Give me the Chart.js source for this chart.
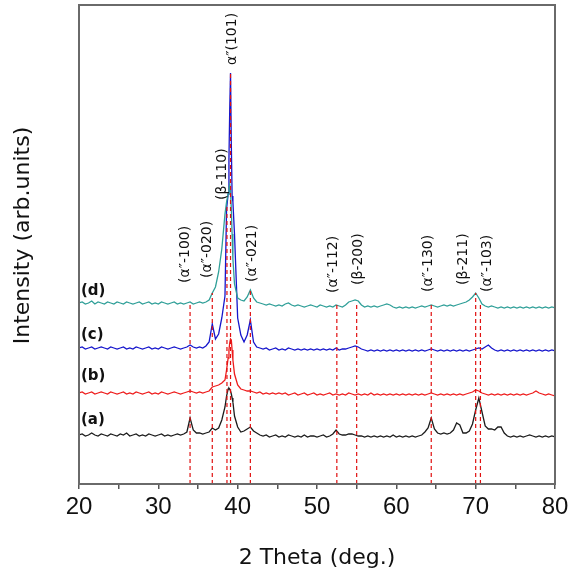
<!DOCTYPE html>
<html>
<head>
<meta charset="utf-8">
<script src="https://cdn.jsdelivr.net/npm/chart.js@4.4.1/dist/chart.umd.min.js"></script>
<style>
html,body{margin:0;padding:0;background:#fff;}
#wrap{width:575px;height:575px;}
</style>
</head>
<body>
<div id="wrap"><canvas id="c" width="575" height="575"></canvas></div>
<script>
// 2θ grid (degrees)
const theta = [
20.0,20.4,20.8,21.2,21.6,22.0,22.4,22.8,23.2,23.6,
24.0,24.4,24.8,25.2,25.6,26.0,26.4,26.8,27.2,27.6,
28.0,28.4,28.8,29.2,29.6,30.0,30.4,30.8,31.2,31.6,
32.0,32.4,32.8,33.2,33.6,34.0,34.4,34.8,35.2,35.6,
36.0,36.4,36.8,37.2,37.6,38.0,38.4,38.6,38.8,38.9,
39.0,39.1,39.2,39.3,39.4,39.6,40.0,40.4,40.8,41.2,
41.6,42.0,42.4,42.8,43.2,43.6,44.0,44.4,44.8,45.2,
45.6,46.0,46.4,46.8,47.2,47.6,48.0,48.4,48.8,49.2,
49.6,50.0,50.4,50.8,51.2,51.6,52.0,52.4,52.8,53.2,
53.6,54.0,54.4,54.8,55.2,55.6,56.0,56.4,56.8,57.2,
57.6,58.0,58.4,58.8,59.2,59.6,60.0,60.4,60.8,61.2,
61.6,62.0,62.4,62.8,63.2,63.6,64.0,64.4,64.8,65.2,
65.6,66.0,66.4,66.8,67.2,67.6,68.0,68.4,68.8,69.2,
69.6,70.0,70.4,70.8,71.2,71.6,72.0,72.4,72.8,73.2,
73.6,74.0,74.4,74.8,75.2,75.6,76.0,76.4,76.8,77.2,
77.6,78.0,78.4,78.8,79.2,79.6,80.0];

// Intensities (arb. units, offset stacked)
const sampleA = [
49,50,48,49,51,49,48,50,49,48,
50,49,48,50,49,51,48,49,50,48,
49,48,50,49,48,49,50,48,49,48,
49,50,49,50,52,66,54,51,51,50,
51,52,56,54,56,64,77,88,95,96,
95,93,90,86,82,68,57,52,53,55,
57,53,51,49,48,49,47,48,49,47,
48,47,49,48,47,48,47,49,47,48,
48,47,48,49,47,48,50,54,50,49,
49,50,50,49,48,48,47,48,47,48,
47,48,47,48,47,49,47,48,47,48,
47,48,47,48,49,52,56,66,55,51,
50,51,50,51,54,61,59,51,51,53,
60,74,86,72,58,55,55,54,57,57,
51,48,47,48,47,48,47,48,49,48,
47,48,47,48,47,48,47];

const sampleB = [
91,92,90,91,92,90,91,92,91,90,
92,91,90,91,92,90,91,90,92,91,
90,91,92,90,91,90,92,91,90,91,
92,91,90,91,92,93,92,91,92,91,
92,93,97,98,99,101,104,114,126,134,
141,145,144,134,124,110,99,95,94,93,
93,92,91,92,90,91,90,91,90,91,
90,91,89,90,91,89,90,91,89,90,
91,89,90,89,90,91,89,90,89,90,
89,91,90,89,90,89,90,89,91,89,
90,89,90,89,90,89,90,89,90,89,
90,89,90,89,90,89,90,91,90,89,
90,89,90,89,90,89,90,89,90,91,
92,94,93,91,90,89,90,89,90,89,
90,89,90,89,90,89,90,89,90,91,
93,91,90,89,90,89,88];

const sampleC = [
136,137,135,136,137,135,136,137,136,135,
137,136,135,136,137,135,136,135,137,136,
135,136,137,135,136,135,137,136,135,136,
137,136,135,136,137,139,137,136,137,136,
138,142,160,145,150,166,188,275,290,325,
375,411,340,288,282,250,166,149,142,149,
164,142,137,136,135,136,134,135,136,134,
135,134,136,135,134,135,134,135,134,135,
134,135,134,135,134,135,134,136,134,135,
135,136,137,138,137,135,134,133,134,133,
134,133,134,133,134,133,134,133,134,133,
134,133,134,133,134,133,134,135,134,133,
134,133,134,133,134,133,134,133,134,133,
134,135,136,135,137,139,136,134,133,134,
133,134,133,134,133,134,133,134,133,134,
133,134,133,134,133,134,133];

const sampleD = [
181,182,180,181,183,180,182,181,180,182,
181,180,182,181,180,182,181,180,181,182,
180,181,182,180,181,180,182,181,180,181,
182,180,181,180,181,182,180,181,182,181,
182,184,191,197,212,235,270,282,290,296,
300,292,275,250,225,200,186,184,183,187,
194,186,182,181,180,179,180,179,178,179,
178,180,181,179,178,179,178,177,178,179,
178,177,179,178,177,178,177,179,178,177,
179,182,183,184,183,179,177,178,177,178,
177,178,179,180,179,177,176,177,176,177,
176,177,176,177,178,177,178,179,178,177,
178,179,178,179,178,179,180,181,182,184,
187,191,186,180,178,177,178,177,176,177,
176,177,176,177,176,177,176,177,176,177,
176,177,176,177,176,177,176];

// Reference reflections
const peakPos   = [34.0, 36.8, 38.65, 39.1, 41.6, 52.5, 55.0, 64.4, 70.0, 70.6];
const peakTop   = [182, 191, 279, 411, 194, 179, 182, 179, 191, 181];
const peakNames = ["(α″-100)","(α″-020)","(β-110)","α″(101)","(α″-021)","(α″-112)","(β-200)","(α″-130)","(β-211)","(α″-103)"];
const labelPos  = [33.37, 36.14, 38.03, 39.29, 41.8, 52.03, 55.18, 64.0, 68.42, 71.45];
const labelBase = [201, 206, 284, 419, 202, 191, 199, 192, 199, 192];

const sampleNames = ["(a)","(b)","(c)","(d)"];
const sampleLabelY = [64, 108, 149, 193];
const sampleLabelX = 20.25;

const xTicks = [20, 30, 40, 50, 60, 70, 80];
const yTitle = "Intensity (arb.units)";

const colors = ["#1c1c1c", "#ee1c1c", "#1515cc", "#2f9f98"];
const series = [sampleA, sampleB, sampleC, sampleD];

const datasets = [];
peakPos.forEach((p, i) => {
  datasets.push({
    data: [{x: p, y: 0}, {x: p, y: peakTop[i]}],
    borderColor: "#e01010",
    borderWidth: 1.2,
    borderDash: [4, 3],
    pointRadius: 0,
    order: 0
  });
});
series.forEach((s, k) => {
  datasets.push({
    data: theta.map((t, i) => ({x: t, y: s[i]})),
    borderColor: colors[k],
    borderWidth: 1.3,
    pointRadius: 0,
    tension: 0,
    order: 1 + (3 - k)
  });
});

const annot = {
  id: 'annot',
  afterDatasetsDraw(chart) {
    const ctx = chart.ctx, xs = chart.scales.x, ys = chart.scales.y;
    ctx.save();
    ctx.fillStyle = "#111";
    ctx.font = "14px 'DejaVu Sans'";
    ctx.textAlign = "left";
    ctx.textBaseline = "middle";
    peakNames.forEach((t, i) => {
      const px = xs.getPixelForValue(labelPos[i]);
      const py = ys.getPixelForValue(labelBase[i]);
      ctx.save();
      ctx.translate(px, py);
      ctx.rotate(-Math.PI / 2);
      ctx.fillText(t, 0, 0);
      ctx.restore();
    });
    ctx.font = "bold 15px 'DejaVu Sans'";
    sampleNames.forEach((t, i) => {
      ctx.fillText(t, xs.getPixelForValue(sampleLabelX), ys.getPixelForValue(sampleLabelY[i]));
    });
    ctx.restore();
  },
  afterDraw(chart) {
    const a = chart.chartArea, ctx = chart.ctx;
    ctx.save();
    ctx.strokeStyle = "#6a6a6a";
    ctx.lineWidth = 2;
    ctx.strokeRect(a.left, a.top, a.right - a.left, a.bottom - a.top);
    // y-axis title, centred slightly above the plot middle as in the reference
    ctx.fillStyle = "#111";
    ctx.font = "22px 'DejaVu Sans'";
    ctx.textAlign = "center";
    ctx.textBaseline = "middle";
    ctx.translate(23, (a.top + a.bottom) / 2 - 9);
    ctx.rotate(-Math.PI / 2);
    ctx.fillText(yTitle, 0, 0);
    ctx.restore();
  }
};

new Chart(document.getElementById('c'), {
  type: 'line',
  data: { datasets },
  options: {
    responsive: false,
    animation: false,
    events: [],
    layout: { padding: { left: 0, right: 20, top: 5, bottom: 0 } },
    plugins: { legend: { display: false }, tooltip: { enabled: false } },
    scales: {
      x: {
        type: 'linear', min: 20, max: 80,
        afterFit(s) { s.height = 91; },
        afterBuildTicks(s) {
          const t = [];
          for (let v = 20; v <= 80; v += 5) t.push({value: v});
          s.ticks = t;
        },
        ticks: {
          autoSkip: false, maxRotation: 0, padding: 4,
          color: "#111",
          font: { family: "'Liberation Sans'", size: 24 },
          callback: v => xTicks.includes(v) ? String(v) : ''
        },
        grid: { drawOnChartArea: false, drawTicks: true, tickLength: 5, color: "#555", lineWidth: 1.5 },
        border: { display: false },
        title: { display: true, text: "2 Theta (deg.)", color: "#111",
                 font: { family: "'DejaVu Sans'", size: 22 }, padding: { top: 0, bottom: 4 } }
      },
      y: {
        type: 'linear', min: 0, max: 479,
        afterFit(s) { s.width = 79; },
        ticks: { display: false },
        grid: { display: false },
        border: { display: false },
        title: { display: false }
      }
    }
  },
  plugins: [annot]
});
</script>
</body>
</html>
